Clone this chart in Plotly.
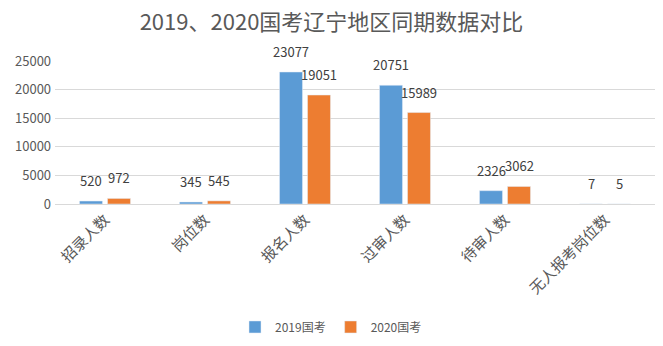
import plotly.graph_objects as go

categories = ["招录人数", "岗位数", "报名人数", "过审人数", "待审人数", "无人报考岗位数"]
values_2019 = [520, 345, 23077, 20751, 2326, 7]
values_2020 = [972, 545, 19051, 15989, 3062, 5]
series_names = ["2019国考", "2020国考"]
title_text = "2019、2020国考辽宁地区同期数据对比"

font_family = "Noto Sans CJK SC, Noto Sans, sans-serif"
grey = "#595959"

fig = go.Figure()
series = [(values_2019, series_names[0], "#5B9BD5", -14),
          (values_2020, series_names[1], "#ED7D31", 14)]
for vals, name, color, shift in series:
    fig.add_trace(go.Bar(x=categories, y=vals, name=name, marker_color=color))
    for cat, v in zip(categories, vals):
        fig.add_annotation(x=cat, y=v, text=str(v), showarrow=False,
                           xref="x", yref="y", xshift=shift, yshift=9,
                           yanchor="bottom", xanchor="center",
                           font=dict(size=13, color="#404040", family=font_family))

fig.update_layout(
    width=663, height=346,
    margin=dict(l=55, r=8, t=61, b=142, autoexpand=False),
    paper_bgcolor="white", plot_bgcolor="white",
    font=dict(family=font_family, color=grey, size=12),
    title=dict(text=title_text, x=0.5, xanchor="center", y=0.935, yanchor="middle",
               font=dict(size=22, color=grey, family=font_family)),
    barmode="group", bargap=0.44, bargroupgap=0.18,
    showlegend=True,
    legend=dict(orientation="h", x=0.46, xanchor="center", y=-0.86, yanchor="middle",
                font=dict(size=12, color=grey), itemwidth=30, traceorder="normal"),
    xaxis=dict(tickangle=-45, showline=True, linecolor="#D9D9D9", linewidth=1,
               tickfont=dict(size=15, color=grey), ticks="", automargin=False),
    yaxis=dict(range=[0, 25000], dtick=5000, showgrid=True, gridcolor="#D9D9D9",
               zeroline=False, tickfont=dict(size=13, color=grey), ticks="",
               tickformat="d", ticksuffix=" ", automargin=False),
)

fig.write_html("out.html")
